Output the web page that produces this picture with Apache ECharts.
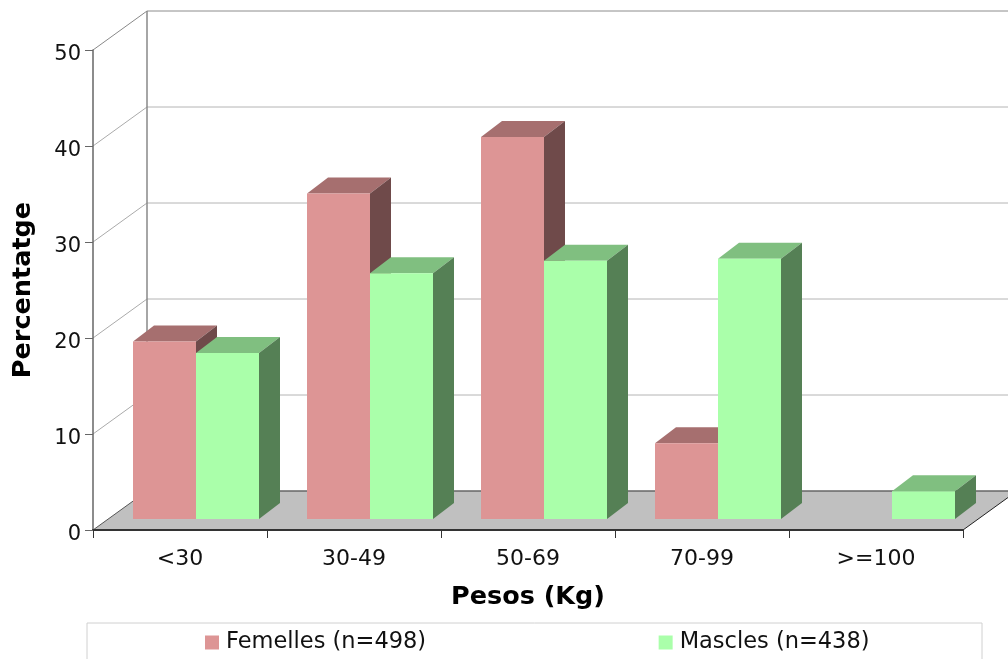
<!DOCTYPE html>
<html>
<head>
<meta charset="utf-8">
<style>
  html, body { margin: 0; padding: 0; background: #fff; overflow: hidden; }
  #chart { width: 1008px; height: 659px; }
</style>
<script src="https://cdn.jsdelivr.net/npm/echarts@6/dist/echarts.min.js"></script>
</head>
<body>
<div id="chart"></div>
<script>
const categories = ["<30", "30-49", "50-69", "70-99", ">=100"];
const femelles = [18.5, 33.9, 39.8, 7.9, 0];
const mascles = [17.3, 25.6, 26.9, 27.1, 2.9];
const yTicks = [0, 10, 20, 30, 40, 50];

// fake 3d offsets, in pixels
const WALL_DX = 54;
const WALL_DY = 39;
const BAR_DX = 21;
const BAR_DY = 16;
const BASE_DX = 16;
const BASE_DY = 11;
const BAR_W = 63;

const chart = echarts.init(document.getElementById("chart"));

const line = (x1, y1, x2, y2, stroke, lineWidth) => ({
  type: "line",
  shape: { x1, y1, x2, y2 },
  style: { stroke, lineWidth, fill: null },
});

const poly = (points, fill) => ({
  type: "polygon",
  shape: { points },
  style: { fill },
});

// floor and back wall with its grid lines
const renderWall = (params, api) => {
  const tick = api.value(0);
  const p = api.coord([0, tick]);
  const x0 = params.coordSys.x;
  const x1 = x0 + params.coordSys.width;
  const y = p[1];
  const children = [];
  if (tick === 0) {
    children.push(
      poly([[x0, y], [x0 + WALL_DX, y - WALL_DY], [x1 + WALL_DX, y - WALL_DY], [x1, y]], "#c0c0c0"),
      line(x0, y, x0 + WALL_DX, y - WALL_DY, "#555", 1),
      line(x1, y, x1 + WALL_DX, y - WALL_DY, "#222", 1),
      line(x0 + WALL_DX, y - WALL_DY, x1 + WALL_DX, y - WALL_DY, "#666", 1.5)
    );
  } else {
    const isTop = tick === yTicks[yTicks.length - 1];
    const color = isTop ? "#8c8c8c" : "#b4b4b4";
    children.push(
      line(x0, y, x0 + WALL_DX, y - WALL_DY, isTop ? "#888" : "#aaa", 1),
      line(x0 + WALL_DX, y - WALL_DY, x1 + WALL_DX, y - WALL_DY, color, 1)
    );
    if (isTop) {
      const y0 = api.coord([0, 0])[1];
      children.push(line(x0 + WALL_DX, y - WALL_DY, x0 + WALL_DX, y0 - WALL_DY, "#888", 1.5));
    }
  }
  return { type: "group", children };
};

// side 0 sits left of the split point of the category, side 1 right of it
const makeBarRenderer = (side, front, top, dark) => (params, api) => {
  const cat = api.value(0);
  const val = api.value(1);
  if (!val) return null;
  const center = api.coord([cat, 0])[0];
  const x1 = center + BASE_DX + (side === 0 ? -BAR_W : 0);
  const x2 = x1 + BAR_W;
  const yBase = api.coord([cat, 0])[1] - BASE_DY;
  const yTop = api.coord([cat, val])[1] - BASE_DY;
  return {
    type: "group",
    children: [
      poly([[x1, yTop], [x2, yTop], [x2 + BAR_DX, yTop - BAR_DY], [x1 + BAR_DX, yTop - BAR_DY]], top),
      poly([[x2, yTop], [x2 + BAR_DX, yTop - BAR_DY], [x2 + BAR_DX, yBase - BAR_DY], [x2, yBase]], dark),
      poly([[x1, yTop], [x2, yTop], [x2, yBase], [x1, yBase]], front),
    ],
  };
};

const options = {
  animation: false,
  textStyle: { fontFamily: "'DejaVu Sans'" },
  grid: { left: 93, right: 45, top: 50, bottom: 129, outerBoundsMode: "none" },
  graphic: [
    {
      type: "rect",
      z: -1,
      shape: { x: 87, y: 623, width: 895, height: 42 },
      style: { fill: "#fff", stroke: "#d0d0d0", lineWidth: 1 },
    },
  ],
  legend: {
    left: 200,
    top: 631,
    padding: [0, 0, 0, 5],
    icon: "rect",
    itemWidth: 14,
    itemHeight: 14,
    itemGap: 232.5,
    selectedMode: false,
    data: ["Femelles (n=498)", "Mascles (n=438)"],
    textStyle: { fontSize: 22.5, color: "#111", padding: [0, 0, 0, 2] },
  },
  xAxis: {
    type: "category",
    data: categories,
    name: "Pesos (Kg)",
    nameLocation: "middle",
    nameGap: 54,
    nameTextStyle: { fontSize: 25.5, fontWeight: "bold", color: "#000" },
    axisLine: { lineStyle: { color: "#333", width: 2 } },
    axisTick: { show: true, alignWithLabel: false, length: 8, lineStyle: { color: "#333" } },
    axisLabel: { fontSize: 22, color: "#111", margin: 18 },
  },
  yAxis: {
    type: "value",
    min: 0,
    max: 50,
    interval: 10,
    name: "Percentatge",
    nameLocation: "middle",
    nameGap: 57,
    nameRotate: 90,
    nameTextStyle: { fontSize: 25.5, fontWeight: "bold", color: "#000" },
    splitLine: { show: false },
    axisLine: { show: true, lineStyle: { color: "#666", width: 1.5 } },
    axisTick: { show: true, length: 8, lineStyle: { color: "#666" } },
    axisLabel: { fontSize: 21, color: "#111", margin: 12, verticalAlign: "top", lineHeight: 10 },
  },
  series: [
    {
      type: "custom",
      z: -1,
      silent: true,
      clip: false,
      encode: { x: -1, y: 0 },
      renderItem: renderWall,
      data: yTicks.map((t) => [t]),
    },
    {
      name: "Femelles (n=498)",
      type: "custom",
      z: 2,
      clip: false,
      itemStyle: { color: "#dd9595" },
      encode: { x: 0, y: 1 },
      renderItem: makeBarRenderer(0, "#dd9595", "#a66f6f", "#6f4a4a"),
      data: femelles.map((v, i) => [i, v]),
    },
    {
      name: "Mascles (n=438)",
      type: "custom",
      z: 3,
      clip: false,
      itemStyle: { color: "#aaffaa" },
      encode: { x: 0, y: 1 },
      renderItem: makeBarRenderer(1, "#aaffaa", "#80bf80", "#558055"),
      data: mascles.map((v, i) => [i, v]),
    },
  ],
};

chart.setOption(options);
</script>
</body>
</html>
